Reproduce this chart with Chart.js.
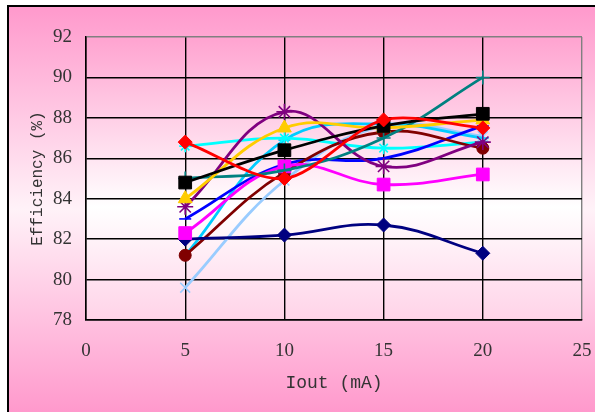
<!DOCTYPE html>
<html>
<head>
<meta charset="utf-8">
<script src="https://cdn.jsdelivr.net/npm/chart.js@4"></script>
<style>
  html, body { margin: 0; padding: 0; background: #fff; }
  #wrap { width: 595px; height: 412px; position: relative; }
</style>
</head>
<body>
<div id="wrap"><canvas id="chart" width="595" height="412"></canvas></div>
<script>
const currents = [5, 10, 15, 20];
const xTicks = [0, 5, 10, 15, 20, 25];
const yTicks = [78, 80, 82, 84, 86, 88, 90, 92];

// one array per curve, efficiency in %
const redDiamond = [86.8, 85.0, 87.9, 87.5];
const blackSquare = [84.8, 86.4, 87.6, 88.2];
const goldTriangle = [84.0, 87.5, 87.5, 87.9];
const purpleStar = [83.6, 88.3, 85.6, 86.8];
const magentaSquare = [82.3, 85.6, 84.7, 85.2];
const darkRedCircle = [81.2, 85.3, 87.3, 86.5];
const navyDiamond = [82.0, 82.2, 82.7, 81.3];
const tealCross = [85.0, 85.4, 87.0, 90.0];
const blueDash = [83.0, 85.7, 86.0, 87.6];
const cyanStar = [86.6, 87.0, 86.5, 86.8];
const skyDash = [81.2, 86.9, 87.7, 87.0];
const paleBlueX = [79.6, 84.9, 87.6, 87.1];

function pts(values) {
  return values.map((v, i) => ({ x: currents[i], y: v }));
}

function series(values, color, style, radius, filled = true, tension = 0.4) {
  return {
    data: pts(values),
    borderColor: color,
    backgroundColor: color,
    pointBackgroundColor: filled ? color : "transparent",
    pointBorderColor: color,
    pointStyle: style,
    pointRadius: radius,
    pointBorderWidth: filled ? 1 : 1.6,
    borderWidth: 2.8,
    showLine: true,
    tension: tension,
    fill: false
  };
}

const backdrop = {
  id: "backdrop",
  beforeDraw(chart) {
    const { ctx, chartArea: a } = chart;
    ctx.save();
    ctx.fillStyle = "#fff";
    ctx.fillRect(0, 0, 595, 412);
    const g = ctx.createLinearGradient(0, 6, 0, 412);
    g.addColorStop(0, "#FF99CC");
    g.addColorStop(0.5, "#FFF2F8");
    g.addColorStop(1, "#FF99CC");
    ctx.fillStyle = g;
    ctx.fillRect(8, 6, 600, 420);
    ctx.strokeStyle = "#000";
    ctx.lineWidth = 2;
    ctx.strokeRect(8, 6, 600, 420);
    const p = ctx.createLinearGradient(0, a.top, 0, a.bottom);
    p.addColorStop(0, "#FFA3D0");
    p.addColorStop(0.6, "#FFFFFF");
    p.addColorStop(1, "#FFD3E8");
    ctx.fillStyle = p;
    ctx.fillRect(a.left, a.top, a.right - a.left, a.bottom - a.top);
    ctx.restore();
  }
};

const gridColor = (ctx) => (ctx.index === ctx.chart.scales[ctx.scale.id].ticks.length - 1 ? "#808080" : "#000");

new Chart(document.getElementById("chart"), {
  type: "scatter",
  data: {
    datasets: [
      series(redDiamond, "#FF0000", "rectRot", 7, true, 0.3),
      series(blackSquare, "#000000", "rect", 9),
      series(goldTriangle, "#FFCC00", "triangle", 8),
      series(tealCross, "#008080", "cross", 7, false),
      series(purpleStar, "#800080", "star", 8, false),
      series(magentaSquare, "#FF00FF", "rect", 9),
      series(navyDiamond, "#000080", "rectRot", 7),
      series(darkRedCircle, "#800000", "circle", 6),
      series(blueDash, "#0000FF", "line", 6, false),
      series(cyanStar, "#00FFFF", "star", 6, false),
      series(skyDash, "#00CCFF", "line", 6, false),
      series(paleBlueX, "#99CCFF", "crossRot", 7, false)
    ]
  },
  options: {
    responsive: false,
    animation: false,
    layout: { padding: { left: 14, top: 37, right: 13, bottom: 18 } },
    plugins: { legend: { display: false }, tooltip: { enabled: false } },
    scales: {
      x: {
        type: "linear",
        min: 0,
        max: 25,
        afterBuildTicks: (s) => { s.ticks = xTicks.map((v) => ({ value: v })); },
        afterFit: (s) => { s.height = 74; s.paddingLeft = 0; s.paddingRight = 0; },
        grid: { color: gridColor, lineWidth: 1.4, drawTicks: false },
        border: { color: "#000", width: 1.5 },
        ticks: { color: "#333", padding: 20, font: { family: "Liberation Serif", size: 19 } },
        title: {
          display: true,
          text: "Iout (mA)",
          color: "#333",
          padding: { top: 4, bottom: 0 },
          font: { family: "Liberation Mono", size: 18 }
        }
      },
      y: {
        min: 78,
        max: 92,
        afterBuildTicks: (s) => { s.ticks = yTicks.map((v) => ({ value: v })); },
        afterFit: (s) => { s.width = 72; },
        grid: { color: gridColor, lineWidth: 1.4, drawTicks: false },
        border: { color: "#000", width: 1.5 },
        ticks: { color: "#333", padding: 14, font: { family: "Liberation Serif", size: 19 } },
        title: {
          display: true,
          text: "Efficiency (%)",
          color: "#333",
          padding: { top: 14, bottom: 0 },
          font: { family: "Liberation Mono", size: 16 }
        }
      }
    }
  },
  plugins: [backdrop]
});
</script>
</body>
</html>
